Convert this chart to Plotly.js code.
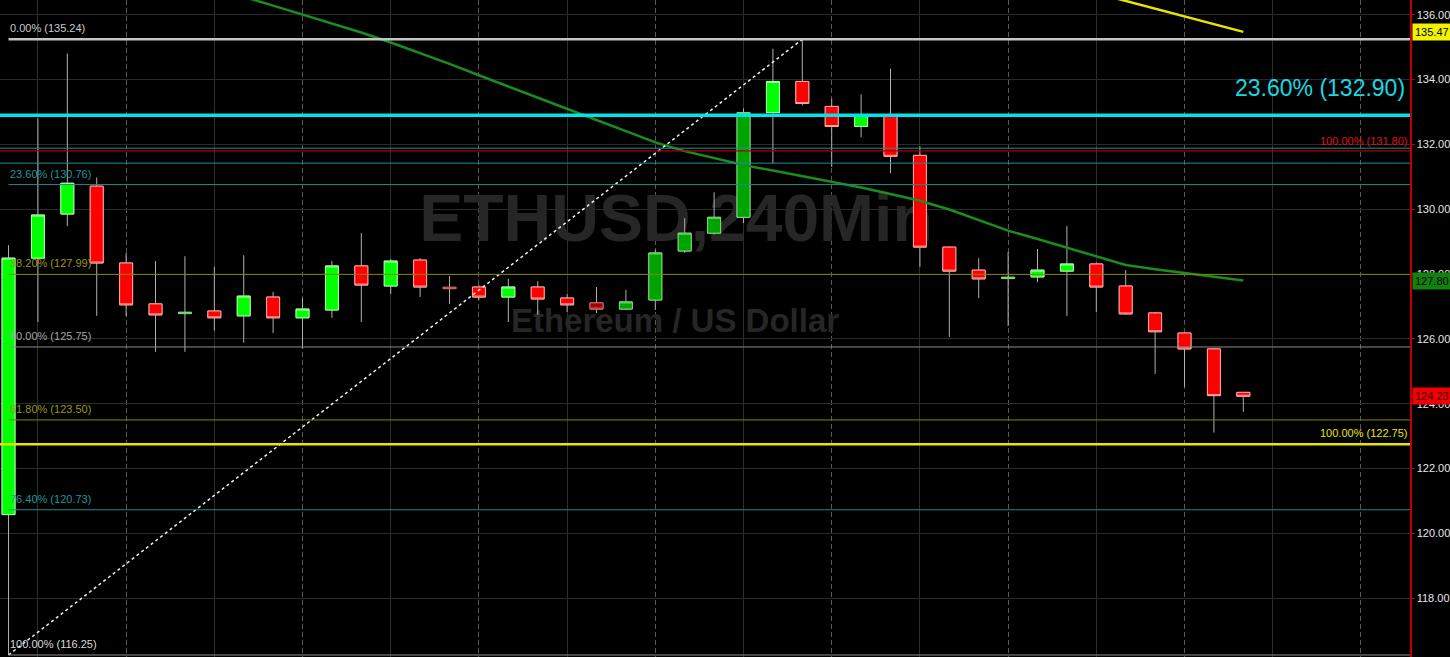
<!DOCTYPE html>
<html>
<head>
<meta charset="utf-8">
<script src="https://cdn.plot.ly/plotly-3.0.1.min.js"></script>
<style>
html,body{margin:0;padding:0;background:#000;overflow:hidden;}
#chart{width:1450px;height:657px;}
</style>
</head>
<body>
<div id="chart"></div>
<script>
// ---------------- DATA ----------------
// ETHUSD 240-minute candles, oldest first
const opens  = [120.58,128.49,129.85,130.71,128.34,127.08,126.78,126.86,126.71,127.29,
                126.65,126.89,128.25,127.63,128.43,127.59,127.60,127.29,127.60,127.26,
                127.11,126.92,127.20,128.71,129.26,129.75,132.98,133.94,133.17,132.55,
                132.92,131.66,128.83,128.12,127.86,127.91,128.09,128.31,127.63,126.80,
                126.18,125.69,124.35];
const highs  = [128.89,132.80,134.80,130.98,128.65,128.40,128.55,128.22,128.58,127.45,
                127.26,128.40,129.26,128.46,128.49,127.94,127.66,127.85,127.78,127.38,
                127.60,127.51,128.75,129.72,130.52,133.11,134.95,135.24,133.40,133.54,
                134.34,131.94,128.85,128.49,128.68,128.77,129.48,128.35,128.12,126.83,
                126.20,125.72,124.36];
const lows   = [116.25,126.52,129.48,126.71,126.70,125.60,125.60,126.25,125.88,126.18,
                125.70,126.65,126.52,127.38,127.29,127.08,127.20,126.52,126.74,126.83,
                126.80,126.89,126.89,128.65,129.22,129.57,131.42,133.20,131.30,132.22,
                131.11,128.22,126.06,127.26,126.40,127.75,126.71,126.83,126.74,124.92,
                124.52,123.11,123.75];
const closes = [128.49,129.82,130.80,128.34,127.05,126.74,126.82,126.65,127.32,126.65,
                126.92,128.25,127.66,128.40,127.60,127.55,127.29,127.60,127.23,127.05,
                126.92,127.14,128.65,129.26,129.75,132.98,133.94,133.26,132.55,132.92,
                131.63,128.83,128.09,127.85,127.90,128.12,128.31,127.60,126.77,126.22,
                125.69,124.25,124.23];
// candles drawn in the darker shade
const darkCandles = [6,15,20,21,22,23,24,25,34];

// green moving average (one value per candle)
const greenMA = [138.83,138.55,138.28,138.00,137.69,137.42,137.14,136.86,136.55,136.28,
                 136.00,135.72,135.45,135.14,134.82,134.48,134.13,133.78,133.45,133.09,
                 132.75,132.41,132.06,131.79,131.57,131.36,131.19,131.02,130.83,130.67,
                 130.47,130.26,129.99,129.67,129.34,129.08,128.82,128.55,128.28,128.15,
                 128.04,127.91,127.80];
// yellow moving average (only the visible tail)
const yellowMAStart = 36;
const yellowMA = [136.90,136.66,136.42,136.18,135.94,135.70,135.47];

// Fibonacci retracement drawn from the swing low (candle 0) to the swing high (candle 27)
const fibPcts   = ['0.00%','23.60%','38.20%','50.00%','61.80%','76.40%','100.00%'];
const fibLevels = [135.24,130.76,127.99,125.75,123.50,120.73,116.25];
const swingLowIdx = 0, swingHighIdx = 27;

// other horizontal levels drawn across the whole chart
const bigLevelPct = '23.60%', bigLevel = 132.90;
const redLevelPct = '100.00%', redLevel = 131.80;
const yellowLevelPct = '100.00%', yellowLevel = 122.75;
const tealLevels = [131.88, 131.42];

// right axis
const yTicks = [118,120,122,124,126,128,130,132,134,136];
const yTickText = ['118.00','120.00','122.00','124.00','126.00','128.00','130.00','132.00','134.00','136.00'];

const titleText = 'ETHUSD,240Min';
const subtitleText = 'Ethereum / US Dollar';

// ---------------- STYLE ----------------
const FONT = '"Liberation Sans Narrow","Arial Narrow","Liberation Sans",Arial,sans-serif';
const xr = [-0.29, 47.67];
const yr = [116.188, 136.452];
const fibColors = ['#c8c8c8','#22959a','#9c9614','#a4a4a4','#9c9614','#22959a','#d8d8d8'];
const fibLineColors = ['#c4c4c4','#1d8a8e','#878500','#8c8c8c','#878500','#1d8a8e','#8c8c8c'];
const fibLineWidths = [2.5,1,1,1,1,1,1];

const idx = opens.map((_, i) => i);
const traces = [];

// watermark (on the base subplot, so it sits beneath everything else)
const px2x = p => xr[0] + p * (xr[1] - xr[0]);
const py2y = p => yr[1] - p * (yr[1] - yr[0]);
traces.push({
  type:'scatter', mode:'text', xaxis:'x', yaxis:'y',
  x:[px2x(676/1410), px2x(675/1410)], y:[py2y(224/657), py2y(324/657)],
  text:[titleText, subtitleText], textposition:'middle center',
  textfont:{family:FONT, size:[66,33], color:'#262626', weight:'bold'},
  hoverinfo:'skip', showlegend:false, cliponaxis:false
});

// wicks
traces.push({
  type:'candlestick', xaxis:'x', yaxis:'y2', x:idx,
  open:opens, high:highs, low:lows, close:closes,
  increasing:{line:{color:'#b0b0b0', width:1}, fillcolor:'rgba(0,0,0,0)'},
  decreasing:{line:{color:'#b0b0b0', width:1}, fillcolor:'rgba(0,0,0,0)'},
  whiskerwidth:0, hoverinfo:'skip', showlegend:false
});

// bodies
function bodyTrace(sel, fill, edge) {
  const o = sel.map(i => opens[i]), c = sel.map(i => closes[i]);
  return {
    type:'candlestick', xaxis:'x', yaxis:'y2', x:sel,
    open:o, close:c,
    high:sel.map((i,k) => Math.max(o[k], c[k])),
    low:sel.map((i,k) => Math.min(o[k], c[k])),
    increasing:{line:{color:edge, width:1}, fillcolor:fill},
    decreasing:{line:{color:edge, width:1}, fillcolor:fill},
    whiskerwidth:0, hoverinfo:'skip', showlegend:false
  };
}
const isUp = i => closes[i] >= opens[i];
const isDark = i => darkCandles.includes(i);
traces.push(bodyTrace(idx.filter(i => isUp(i) && !isDark(i)), '#00ff00', '#a8ffa8'));
traces.push(bodyTrace(idx.filter(i => isUp(i) && isDark(i)),  '#00a400', '#78d878'));
traces.push(bodyTrace(idx.filter(i => !isUp(i) && !isDark(i)), '#ff0000', '#ffa0a0'));
traces.push(bodyTrace(idx.filter(i => !isUp(i) && isDark(i)),  '#a00000', '#d86060'));

// moving averages
traces.push({type:'scatter', mode:'lines', xaxis:'x', yaxis:'y2', x:idx, y:greenMA,
  line:{color:'#1c8c1c', width:2.5}, hoverinfo:'skip', showlegend:false});
traces.push({type:'scatter', mode:'lines', xaxis:'x', yaxis:'y2',
  x:yellowMA.map((_, k) => yellowMAStart + k), y:yellowMA,
  line:{color:'#e6e600', width:2.5}, hoverinfo:'skip', showlegend:false});

// fib trend line (dotted)
traces.push({type:'scatter', mode:'lines', xaxis:'x', yaxis:'y2',
  x:[swingLowIdx, swingHighIdx], y:[lows[swingLowIdx], highs[swingHighIdx]],
  line:{color:'#f0f0f0', width:1.5, dash:'dot'}, hoverinfo:'skip', showlegend:false});

// ---------------- SHAPES ----------------
const shapes = [];
fibLevels.forEach((v, k) => {
  shapes.push({type:'line', xref:'x', yref:'y', x0:swingLowIdx, x1:xr[1], y0:v, y1:v,
    line:{color:fibLineColors[k], width:fibLineWidths[k]}});
});
tealLevels.forEach(v => shapes.push({type:'line', xref:'x', yref:'y', x0:xr[0], x1:xr[1], y0:v, y1:v,
  line:{color:'#1d9094', width:1}}));
shapes.push({type:'line', xref:'x', yref:'y', x0:xr[0], x1:xr[1], y0:redLevel, y1:redLevel,
  line:{color:'#b40000', width:1.2}});
shapes.push({type:'line', xref:'x', yref:'y', x0:xr[0], x1:xr[1], y0:bigLevel, y1:bigLevel,
  line:{color:'#00e4ee', width:3.5}});
shapes.push({type:'line', xref:'x', yref:'y', x0:xr[0], x1:xr[1], y0:yellowLevel, y1:yellowLevel,
  line:{color:'#e6e600', width:2.5}});

// ---------------- ANNOTATIONS ----------------
const annotations = [];
const fmt = v => v.toFixed(2);
fibLevels.forEach((v, k) => {
  annotations.push({xref:'paper', yref:'y', x:8/1410, y:v, xanchor:'left', yanchor:'bottom', yshift:3,
    text:fibPcts[k] + ' (' + fmt(v) + ')', showarrow:false,
    font:{family:FONT, size:11, color:fibColors[k]}});
});
annotations.push({xref:'paper', yref:'y', x:1407/1410, y:bigLevel, xanchor:'right', yanchor:'bottom', yshift:12,
  text:bigLevelPct + ' (' + fmt(bigLevel) + ')', showarrow:false,
  font:{family:FONT, size:23, color:'#18d8e2'}});
annotations.push({xref:'paper', yref:'y', x:1409/1410, y:redLevel, xanchor:'right', yanchor:'bottom', yshift:2,
  text:redLevelPct + ' (' + fmt(redLevel) + ')', showarrow:false,
  font:{family:FONT, size:11, color:'#e01010'}});
annotations.push({xref:'paper', yref:'y', x:1409/1410, y:yellowLevel, xanchor:'right', yanchor:'bottom', yshift:3,
  text:yellowLevelPct + ' (' + fmt(yellowLevel) + ')', showarrow:false,
  font:{family:FONT, size:11, color:'#e6e600'}});

// value badges on the right axis
const badges = [
  {v:yellowMA[yellowMA.length-1], bg:'#f2f200', fg:'#000'},
  {v:greenMA[greenMA.length-1],  bg:'#12820f', fg:'#000'},
  {v:closes[closes.length-1],    bg:'#f00000', fg:'#400'}
];
badges.forEach(b => annotations.push({xref:'paper', yref:'y2', x:1, y:b.v, xanchor:'left', yanchor:'middle', xshift:2,
  text:fmt(b.v), showarrow:false, bgcolor:b.bg, borderpad:2,
  font:{family:FONT, size:11, color:b.fg}}));

// ---------------- LAYOUT ----------------
const layout = {
  width:1450, height:657,
  margin:{l:0, r:40, t:0, b:0, pad:0},
  paper_bgcolor:'#000', plot_bgcolor:'#000',
  showlegend:false, boxgap:0.37, boxgroupgap:0.3,
  xaxis:{range:xr, tickmode:'linear', tick0:1, dtick:6, showgrid:true, gridcolor:'#2e2e2e', gridwidth:1,
    showticklabels:false, ticks:'', zeroline:false, showline:false, fixedrange:true, automargin:false,
    rangeslider:{visible:false},
    minor:{tick0:1, dtick:3, showgrid:true, gridcolor:'#585858', gridwidth:1, griddash:'5px,3px', ticks:''}},
  yaxis:{range:yr, tickmode:'array', tickvals:yTicks, showgrid:true, gridcolor:'#2a2a2a', gridwidth:1,
    showticklabels:false, ticks:'', zeroline:false, showline:false, fixedrange:true, automargin:false},
  yaxis2:{range:yr, overlaying:'y', side:'right', tickmode:'array', tickvals:yTicks, ticktext:yTickText,
    showgrid:false, zeroline:false, showline:true, linecolor:'#c00000', linewidth:1.5,
    ticks:'outside', ticklen:3, tickcolor:'#c00000', tickwidth:1,
    tickfont:{family:FONT, size:11, color:'#e6e6e6'}, fixedrange:true, automargin:false},
  shapes:shapes,
  annotations:annotations
};

Plotly.newPlot('chart', traces, layout, {staticPlot:true, displayModeBar:false});
</script>
</body>
</html>
